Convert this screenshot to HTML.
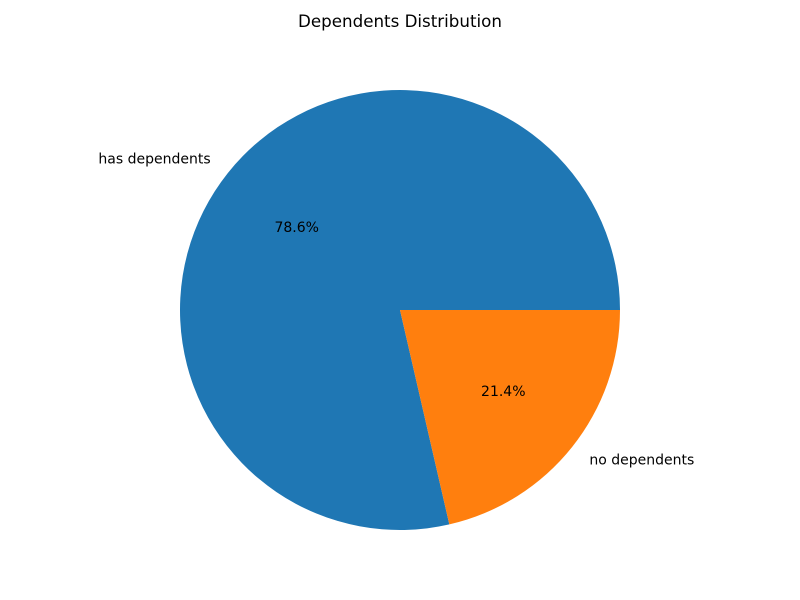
<!DOCTYPE html>
<html>
<head>
<meta charset="utf-8">
<style>
  html, body { margin: 0; padding: 0; background: #fff; }
  svg { display: block; font-family: "DejaVu Sans", "Liberation Sans", sans-serif; }
</style>
</head>
<body>
<svg id="chart" width="800" height="600" viewBox="0 0 800 600">
  <rect width="800" height="600" fill="#fff"/>
  <text x="400" y="27" text-anchor="middle" font-size="16.7" fill="#000">Dependents Distribution</text>
  <g id="slices"></g>
</svg>
<script>
const categories = ["has dependents", "no dependents"];
const values = [78.6, 21.4];
const pctLabels = ["78.6%", "21.4%"];
const colors = ["#1f77b4", "#ff7f0e"];

const cx = 400, cy = 310, r = 220;
const g = document.getElementById('slices');
const ns = 'http://www.w3.org/2000/svg';
const total = values.reduce((a, b) => a + b, 0);
function pt(deg, rad) {
  const a = deg * Math.PI / 180;
  return [cx + rad * Math.cos(a), cy - rad * Math.sin(a)];
}
let start = 0;
values.forEach((v, i) => {
  const sweep = v / total * 360;
  const end = start + sweep;
  const [x1, y1] = pt(start, r);
  const [x2, y2] = pt(end, r);
  const large = sweep > 180 ? 1 : 0;
  const p = document.createElementNS(ns, 'path');
  p.setAttribute('d', `M${cx},${cy} L${x1},${y1} A${r},${r} 0 ${large} 0 ${x2},${y2} Z`);
  p.setAttribute('fill', colors[i]);
  
  
  g.appendChild(p);

  const mid = start + sweep / 2;
  const [lx, ly] = pt(mid, r * 1.1);
  const t = document.createElementNS(ns, 'text');
  t.setAttribute('x', lx);
  t.setAttribute('y', ly + 4);
  t.setAttribute('font-size', '14');
  t.setAttribute('text-anchor', Math.cos(mid * Math.PI / 180) < 0 ? 'end' : 'start');
  t.textContent = categories[i];
  
  
  g.appendChild(t);

  const [px, py] = pt(mid, r * 0.6);
  const tp = document.createElementNS(ns, 'text');
  tp.setAttribute('x', px);
  tp.setAttribute('y', py + 4);
  tp.setAttribute('font-size', '14');
  tp.setAttribute('text-anchor', 'middle');
  tp.textContent = pctLabels[i];
  
  
  g.appendChild(tp);

  start = end;
});
</script>
</body>
</html>
